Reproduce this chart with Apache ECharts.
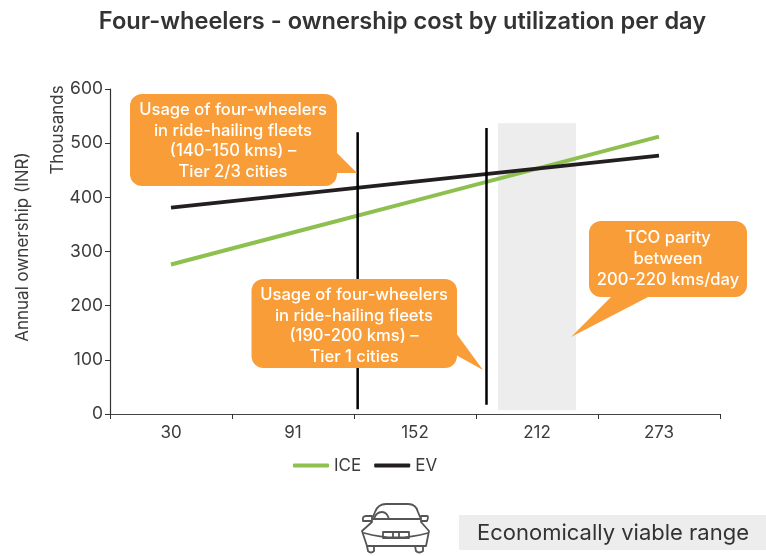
<!DOCTYPE html>
<html><head><meta charset="utf-8">
<style>html,body{margin:0;padding:0;background:#fff}#c{width:766px;height:556px}</style>
<script src="https://cdn.jsdelivr.net/npm/echarts@6/dist/echarts.min.js"></script>
</head><body><div id="c"></div>
<script>
const categories = ['30','91','152','212','273'];
const iceValues = [276,335,394,453,512];
const evValues = [381,405,429,453,477];
const yTicks = [0,100,200,300,400,500,600];
// Annotation positions in axis units: x in category bands (0..5), y in axis value
const tier23Line = [[2.03,520],[2.03,9]];
const tier1Line = [[3.086,528],[3.086,17]];
const viableBand = [[3.18,537],[3.82,7]];
const ORANGE = '#f99d38', INK = '#3c3c3c', DARK = '#231f20';
const font = 'Inter';

function callout(x,y,w,h,tail,lines,tx,ty){
  return {type:'group',children:[
    {type:'polygon',z:50,shape:{points:tail},style:{fill:ORANGE}},
    {type:'rect',z:50,shape:{x,y,width:w,height:h,r:12},style:{fill:ORANGE}},
    {type:'text',z:51,x:tx,y:ty,style:{text:lines,fill:'#fff',font:'500 16.6px '+font,align:'center',verticalAlign:'middle',lineHeight:20.8}}
  ]};
}
let shapeCount = 0;
function carIcon(){
  const s={fill:'none',stroke:'#555',lineWidth:1.8,lineJoin:'round',lineCap:'round'};
  const paths=[
    'M373 517 L375 512 Q378 504 386 504 L408 504 Q416 504 418 512 L420 517',
    'M373 519 L420 519',
    'M366 516 L372 516 L372 521 L363 521 Q362 516 366 516 Z',
    'M421 516 L427 516 Q429 516 427 521 L421 521 Z',
    'M374 519 Q376 512 382 512 Q387 512 389 519',
    'M372 522 L362 531 L367 546 L426 546 L429 531 L421 522',
    'M364 533 Q396 542 428 533',
    'M393 532 L393 538 M399 532 L399 538',
    'M367 546 L368 551 Q371 554 374 551 L374 546',
    'M415 546 L416 551 Q419 554 423 551 L423 546'
  ];
  const children=paths.map(d=>{
    const name='carPart'+(shapeCount++);
    echarts.graphic.registerShape(name,echarts.graphic.extendPath(d,{}));
    return {type:name,style:s};
  });
  children.push({type:'rect',shape:{x:383,y:532,width:26,height:6},style:s});
  return {type:'group',children};
}
const chart = echarts.init(document.getElementById('c'),null,{renderer:'canvas'});
chart.setOption({
  animation:false,
  backgroundColor:'#fff',
  textStyle:{fontFamily:font},
  title:{text:'Four-wheelers - ownership cost by utilization per day',left:397.5,top:5,textAlign:'center',
    textStyle:{fontFamily:font,fontSize:23.6,fontWeight:600,color:'#333'}},
  legend:{data:['ICE','EV'],left:293,top:457,padding:0,itemWidth:36,itemHeight:4,itemGap:13,icon:'roundRect',
    textStyle:{fontFamily:font,fontSize:17,color:INK}},
  grid:{left:110,right:46,top:89,bottom:142,outerBoundsMode:'none'},
  xAxis:[
    {type:'category',data:categories,boundaryGap:true,
     axisLine:{lineStyle:{color:'#444',width:1.2}},
     axisTick:{show:true,alignWithLabel:false,length:5,lineStyle:{color:'#333'}},
     axisLabel:{fontFamily:font,fontSize:17,color:INK,margin:10}},
    {type:'value',min:0,max:5,show:false}
  ],
  yAxis:{type:'value',min:0,max:600,interval:100,
    axisLine:{show:true,lineStyle:{color:'#333',width:1.2}},
    axisTick:{show:true,length:5,lineStyle:{color:'#333'}},
    splitLine:{show:false},
    axisLabel:{fontFamily:font,fontSize:17.5,color:INK,margin:7,
      formatter:v=>yTicks.includes(v)?String(v):''}},
  series:[
    {name:'viable',type:'line',xAxisIndex:1,data:[],silent:true,z:1,
     markArea:{silent:true,itemStyle:{color:'#ededed'},
       data:[[{coord:viableBand[0]},{coord:viableBand[1]}]]}},
    {name:'ICE',type:'line',data:iceValues,symbol:'none',z:3,
     lineStyle:{color:'#8dc04f',width:4},itemStyle:{color:'#8dc04f'}},
    {name:'EV',type:'line',data:evValues,symbol:'none',z:3,
     lineStyle:{color:DARK,width:4},itemStyle:{color:DARK}},
    {name:'tier23',type:'line',xAxisIndex:1,data:tier23Line,symbol:'none',z:4,silent:true,
     lineStyle:{color:'#000',width:2.5}},
    {name:'tier1',type:'line',xAxisIndex:1,data:tier1Line,symbol:'none',z:4,silent:true,
     lineStyle:{color:'#000',width:2.5}}
  ],
  graphic:[
    {type:'text',x:23,y:247,rotation:Math.PI/2,style:{text:'Annual ownership (INR)',font:'17px '+font,fill:INK,align:'center',verticalAlign:'middle'},z:10},
    {type:'text',x:58,y:130,rotation:Math.PI/2,style:{text:'Thousands',font:'17px '+font,fill:INK,align:'center',verticalAlign:'middle'},z:10},
    callout(130,94,207,92,[[336,152],[357,173],[336,173]],'Usage of four-wheelers\nin ride-hailing fleets\n(140-150 kms) –\nTier 2/3 cities',233,141),
    callout(251.5,279,205.5,89,[[456,333],[483,370],[456,355]],'Usage of four-wheelers\nin ride-hailing fleets\n(190-200 kms) –\nTier 1 cities',354,326),
    callout(589,221,158,76,[[612,296],[571,337],[650,296]],'TCO parity\nbetween\n200-220 kms/day',668,259),
    {type:'rect',z:5,shape:{x:459,y:515,width:307,height:35},style:{fill:'#ededed'}},
    {type:'text',z:6,x:477,y:533.5,style:{text:'Economically viable range',font:'22px '+font,fill:'#333',verticalAlign:'middle'}},
    carIcon()
  ]
});
</script></body></html>
